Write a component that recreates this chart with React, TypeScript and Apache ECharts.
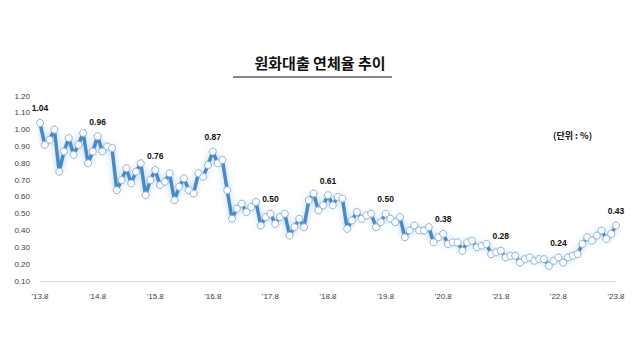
import React, { useEffect, useRef } from "react";
import * as echarts from "echarts";

const titleText = "원화대출 연체율 추이";
const unitText = "(단위 : %)";

const tickLabels = ["'13.8", "'14.8", "'15.8", "'16.8", "'17.8", "'18.8", "'19.8", "'20.8", "'21.8", "'22.8", "'23.8"];

// monthly delinquency rate, Aug 2013 .. Aug 2023
const rates2013to2016 = [
  1.04, 0.91, 0.94, 1.0, 0.75, 0.87, 0.95, 0.85, 0.91, 0.98, 0.8, 0.87,
  0.96, 0.87, 0.9, 0.89, 0.64, 0.7, 0.77, 0.68, 0.75, 0.8, 0.61, 0.7,
  0.76, 0.67, 0.69, 0.74, 0.58, 0.66, 0.71, 0.64, 0.62, 0.74, 0.72, 0.79,
];
const rates2016to2019 = [
  0.87, 0.8, 0.82, 0.64, 0.47, 0.53, 0.56, 0.51, 0.54, 0.57, 0.43, 0.48,
  0.5, 0.44, 0.48, 0.5, 0.37, 0.42, 0.47, 0.42, 0.58, 0.62, 0.52, 0.55,
  0.61, 0.55, 0.6, 0.59, 0.41, 0.46, 0.51, 0.47, 0.49, 0.5, 0.42, 0.45,
];
const rates2019to2022 = [
  0.5, 0.47, 0.45, 0.48, 0.36, 0.4, 0.43, 0.4, 0.4, 0.42, 0.33, 0.36,
  0.38, 0.32, 0.33, 0.33, 0.28, 0.33, 0.34, 0.3, 0.31, 0.32, 0.26, 0.27,
  0.28, 0.24, 0.25, 0.25, 0.21, 0.23, 0.24, 0.22, 0.23, 0.23, 0.19, 0.22,
];
const rates2022to2023 = [
  0.24, 0.21, 0.24, 0.25, 0.26, 0.32, 0.36, 0.34, 0.37, 0.4, 0.35, 0.38,
  0.43,
];

const values = [...rates2013to2016, ...rates2016to2019, ...rates2019to2022, ...rates2022to2023];

const numFont = "'Liberation Sans Narrow', 'Liberation Sans', Arial, sans-serif";
const krFont = "'Noto Sans CJK KR', 'Noto Sans', sans-serif";

export default function App() {
  const ref = useRef<HTMLDivElement>(null);

  useEffect(() => {
    if (!ref.current) return;
    const chart = echarts.init(ref.current, null, { renderer: "svg" });
    const categories = values.map((_, i) => (i % 12 === 0 ? tickLabels[i / 12] : String(i)));
    const data = values.map((v, i) =>
      i % 12 === 0
        ? { value: v, label: { show: true } }
        : { value: v }
    );
    chart.setOption({
      animation: false,
      backgroundColor: "#ffffff",
      grid: { left: 40, right: 24, top: 96, bottom: 79, containLabel: false },
      graphic: [
        {
          type: "text",
          left: "center",
          top: 55,
          style: {
            text: titleText,
            font: `bold 15px ${krFont}`,
            fill: "#111111",
          },
        },
        {
          type: "line",
          shape: { x1: 233, y1: 77, x2: 392, y2: 77 },
          style: { stroke: "#111111", lineWidth: 1.2 },
        },
        {
          type: "text",
          left: 553,
          top: 131,
          style: {
            text: unitText,
            font: `bold 9px ${krFont}`,
            fill: "#111111",
          },
        },
      ],
      xAxis: {
        type: "category",
        data: categories,
        boundaryGap: false,
        axisLine: { show: true, lineStyle: { color: "#d9d9d9", width: 1 } },
        axisTick: { show: false },
        axisLabel: {
          interval: (idx: number) => idx % 12 === 0,
          color: "#404040",
          fontSize: 8,
          fontFamily: numFont,
          margin: 11,
        },
        splitLine: { show: false },
      },
      yAxis: {
        type: "value",
        min: 0.1,
        max: 1.2,
        interval: 0.1,
        axisLine: { show: false },
        axisTick: { show: false },
        splitLine: { show: false },
        axisLabel: {
          formatter: (v: number) => v.toFixed(2),
          color: "#404040",
          fontSize: 8,
          fontFamily: numFont,
          margin: 10,
        },
      },
      series: [
        {
          type: "line",
          data,
          symbol: "circle",
          symbolSize: 7,
          showAllSymbol: true,
          lineStyle: {
            color: "#4a89c8",
            width: 3.5,
            shadowColor: "rgba(140,185,235,0.7)",
            shadowBlur: 6,
          },
          itemStyle: {
            color: "#ffffff",
            borderColor: "#8fb4dc",
            borderWidth: 1,
          },
          label: {
            show: false,
            position: "top",
            distance: 6,
            color: "#111111",
            fontSize: 8.5,
            fontWeight: "bold",
            fontFamily: "'Liberation Sans', Arial, sans-serif",
            formatter: (p: any) => Number(p.value).toFixed(2),
          },
          emphasis: { disabled: true },
        },
      ],
    });
    return () => chart.dispose();
  }, []);

  return <div ref={ref} style={{ width: 640, height: 360, position: "absolute", left: 0, top: 0 }} />;
}
